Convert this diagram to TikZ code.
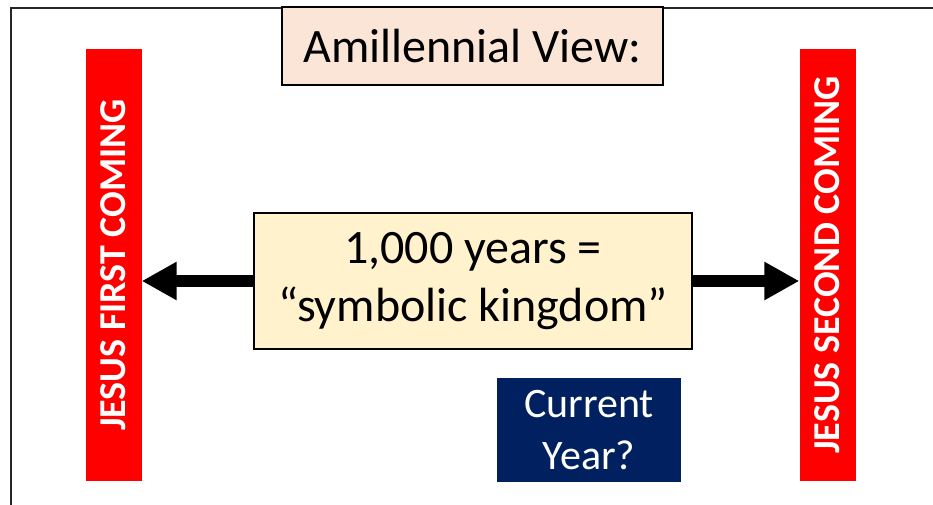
\documentclass[tikz,border=0pt]{standalone}
\usepackage{fontspec}
\setmainfont{Carlito}
\usetikzlibrary{arrows.meta}
\definecolor{peach}{HTML}{FBE5D6}
\definecolor{cream}{HTML}{FFF2CC}
\definecolor{navy}{HTML}{002060}
\definecolor{barred}{HTML}{FF0000}
\begin{document}
\begin{tikzpicture}[x=1pt,y=-1pt,
  barbox/.style={fill=barred, text=white, rotate=90, minimum width=432pt, minimum height=56pt, inner sep=0pt, font=\bfseries\fontsize{38}{40}\selectfont},
  titlebox/.style={draw=black, line width=2pt, fill=peach, minimum width=381pt, minimum height=78pt, inner sep=0pt, font=\fontsize{48}{58}\selectfont},
  mainbox/.style={draw=black, line width=1.5pt, fill=cream, minimum width=438pt, minimum height=136pt, inner sep=0pt, align=center, font=\fontsize{48}{58.5}\selectfont},
  yearbox/.style={fill=navy, text=white, minimum width=184pt, minimum height=104pt, inner sep=0pt, align=center, font=\fontsize{42}{52}\selectfont},
  bigarrow/.style={line width=12pt, -{Triangle[length=35pt,width=36pt]}}
]
\useasboundingbox (0,0) rectangle (933,505);
\draw[line width=2pt, black!85] (11,505) -- (11,8) -- (933,8);
\node[barbox] (first) at (113.5,265) {JESUS FIRST COMING};
\node[barbox] (second) at (827.5,265) {JESUS SECOND COMING};
\node[titlebox] (title) at (472.5,46) {Amillennial View:};
\node[mainbox] (main) at (473,281) {1,000 years =\\“symbolic kingdom”};
\node[yearbox] (year) at (589,430) {Current\\Year?};
\draw[bigarrow] (main.west) -- (main.west -| first.south);
\draw[bigarrow] (main.east) -- (main.east -| second.north);
\end{tikzpicture}
\end{document}
